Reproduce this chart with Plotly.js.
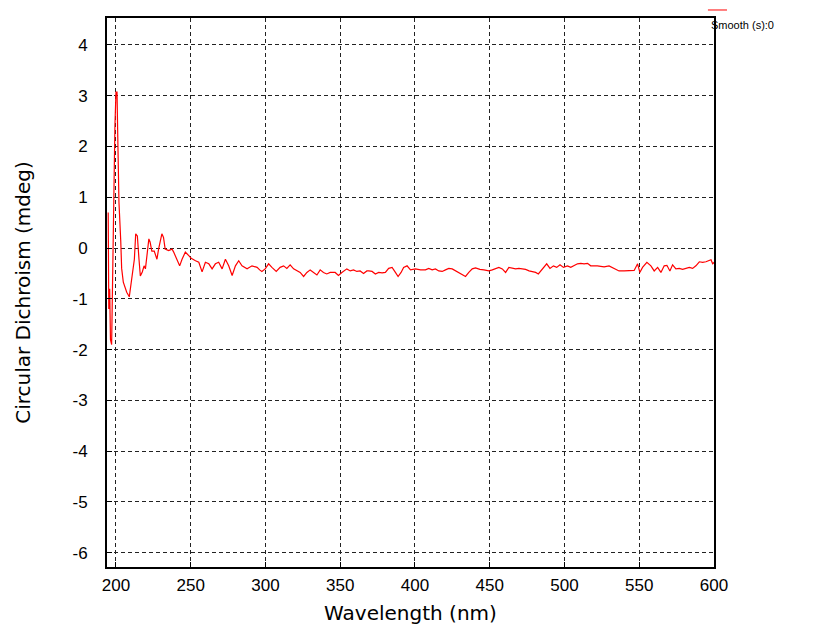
<!DOCTYPE html>
<html>
<head>
<meta charset="utf-8">
<script src="https://cdn.plot.ly/plotly-3.0.1.min.js"></script>
<style>html,body{margin:0;padding:0;background:#fff;}#chart{width:814px;height:626px;}</style>
</head>
<body>
<div id="chart"></div>
<script>
// Wavelength (nm)
const wavelength = [
  194.8,195.2,195.8,196.3,197.1,197.6,198.2,198.7,199.3,200.0,200.7,201.1,202.0,203.2,203.8,204.9,207.2,208.9,209.9,211.2,
  212.3,213.2,214.3,215.4,216.3,217.6,218.8,219.7,220.8,222.0,222.8,224.0,225.6,227.4,228.5,229.6,230.7,231.8,232.9,235.2,
  237.5,238.6,240.4,242.6,244.2,246.4,248.7,250.3,253.2,255.4,257.6,259.8,262.1,264.3,266.5,268.7,271.0,273.2,275.4,277.7,
  279.9,282.1,284.3,287.7,291.0,294.4,296.1,297.6,299.8,302.1,304.3,307.2,309.8,312.1,314.3,316.5,318.8,321.0,323.2,325.5,
  327.7,329.9,332.1,334.4,336.6,338.8,341.0,343.3,346.6,348.8,351.1,354.4,356.7,358.9,361.1,363.3,365.6,367.8,369.1,371.3,
  373.5,375.7,378.0,380.2,382.4,384.7,386.9,388.7,390.7,392.4,394.7,397.0,400.3,403.7,407.0,409.2,411.5,413.7,415.9,418.2,
  420.4,422.6,424.9,427.1,429.3,431.6,433.8,436.0,438.3,440.5,443.4,446.1,449.4,451.7,453.9,456.1,458.4,460.6,462.8,465.1,
  467.3,469.5,471.8,474.0,476.3,478.5,480.7,482.5,484.1,485.9,488.1,490.3,492.6,494.8,497.0,499.3,502.0,504.2,506.3,508.7,
  510.9,513.1,515.4,517.5,522.0,526.5,529.8,533.2,536.5,539.9,543.2,546.6,548.9,550.4,552.2,555.1,557.8,560.0,562.3,564.5,
  566.7,568.5,570.5,572.3,574.5,576.8,579.0,581.2,583.5,585.7,587.9,590.2,592.4,594.6,596.9,598.0,599.1,600.2
];
// Circular Dichroism (mdeg)
const cd = [
  0.70,-1.20,-0.80,-1.80,-1.90,-0.75,1.00,1.85,2.40,3.07,3.07,2.35,0.90,0.14,-0.40,-0.67,-0.87,-0.96,-0.75,-0.55,
  -0.22,0.28,0.24,-0.22,-0.55,-0.47,-0.35,-0.41,-0.08,0.18,0.12,-0.06,-0.06,-0.22,-0.02,0.11,0.28,0.21,-0.02,-0.05,
  -0.02,-0.08,-0.22,-0.35,-0.22,-0.08,-0.15,-0.20,-0.25,-0.28,-0.47,-0.28,-0.31,-0.41,-0.31,-0.28,-0.41,-0.22,-0.35,-0.54,
  -0.35,-0.25,-0.35,-0.41,-0.35,-0.38,-0.43,-0.46,-0.41,-0.31,-0.38,-0.46,-0.38,-0.35,-0.40,-0.33,-0.41,-0.45,-0.48,-0.56,
  -0.48,-0.43,-0.48,-0.53,-0.43,-0.48,-0.51,-0.48,-0.48,-0.54,-0.48,-0.41,-0.45,-0.43,-0.46,-0.45,-0.50,-0.45,-0.45,-0.46,
  -0.51,-0.48,-0.49,-0.48,-0.40,-0.38,-0.48,-0.56,-0.48,-0.38,-0.35,-0.43,-0.41,-0.43,-0.43,-0.40,-0.43,-0.41,-0.45,-0.46,
  -0.43,-0.40,-0.41,-0.45,-0.48,-0.52,-0.56,-0.48,-0.41,-0.39,-0.42,-0.43,-0.45,-0.43,-0.40,-0.38,-0.41,-0.48,-0.38,-0.39,
  -0.41,-0.40,-0.41,-0.42,-0.45,-0.46,-0.48,-0.51,-0.45,-0.38,-0.31,-0.40,-0.35,-0.38,-0.33,-0.38,-0.35,-0.38,-0.35,-0.31,
  -0.30,-0.31,-0.30,-0.35,-0.35,-0.37,-0.35,-0.40,-0.45,-0.45,-0.45,-0.44,-0.31,-0.48,-0.38,-0.28,-0.35,-0.45,-0.38,-0.48,
  -0.35,-0.34,-0.45,-0.33,-0.41,-0.40,-0.42,-0.40,-0.38,-0.40,-0.35,-0.27,-0.28,-0.27,-0.25,-0.23,-0.31,-0.28
];
const xTicks = [200,250,300,350,400,450,500,550,600];
const yTicks = [-6,-5,-4,-3,-2,-1,0,1,2,3,4];
const seriesName = "Smooth (s):0";

const tickFont = {family: "Liberation Sans Narrow, Arial Narrow, Liberation Sans, Arial, sans-serif", size: 17, color: "#000"};
const titleFont = {family: "DejaVu Sans, Verdana, sans-serif", size: 20, color: "#000"};

const trace = {
  x: wavelength, y: cd, type: "scatter", mode: "lines", name: seriesName,
  line: {color: "#ff0000", width: 1.2}, showlegend: false
};

const axisCommon = {
  showline: true, linecolor: "#000", linewidth: 2, mirror: true,
  ticks: "inside", ticklen: 5, tickcolor: "#000", tickwidth: 1,
  showgrid: true, gridcolor: "#222", gridwidth: 1, griddash: "4px,3px",
  zeroline: false, tickfont: tickFont
};

const layout = {
  width: 814, height: 626,
  margin: {l: 107, r: 100, t: 18, b: 59},
  paper_bgcolor: "#fff", plot_bgcolor: "#fff",
  showlegend: false,
  xaxis: Object.assign({}, axisCommon, {
    range: [194, 600], tickvals: xTicks, ticktext: xTicks.map(String),
    ticklabelstandoff: 2,
    title: {text: "Wavelength (nm)", font: titleFont, standoff: 12}
  }),
  yaxis: Object.assign({}, axisCommon, {
    range: [-6.28, 4.53], tickvals: yTicks, ticktext: yTicks.map(String),
    ticklabelstandoff: 14,
    title: {text: "Circular Dichroism (mdeg)", font: titleFont, standoff: 36}
  }),
  shapes: [{
    type: "line", xref: "paper", yref: "paper",
    x0: 0.990, x1: 1.0214, y0: 1.0146, y1: 1.0146,
    line: {color: "#ff0000", width: 1}
  }],
  annotations: [{
    xref: "paper", yref: "paper", x: 0.9915, y: 0.9880,
    xanchor: "left", yanchor: "middle", showarrow: false,
    text: seriesName, font: {family: "Liberation Sans, Arial, sans-serif", size: 11, color: "#000"}
  }]
};

Plotly.newPlot("chart", [trace], layout, {displayModeBar: false, staticPlot: true});
</script>
</body>
</html>
